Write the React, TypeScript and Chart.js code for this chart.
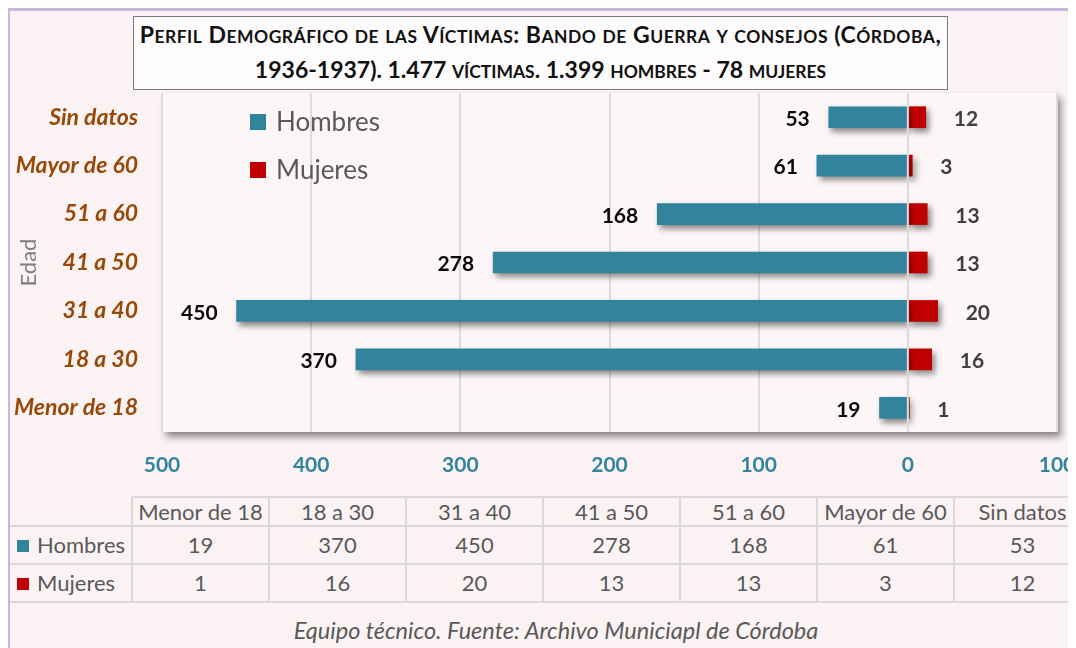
import React, { useEffect, useRef } from 'react';
import { Chart, registerables } from 'chart.js';

Chart.register(...registerables);

// ---------- data ----------
const categories = ['Menor de 18', '18 a 30', '31 a 40', '41 a 50', '51 a 60', 'Mayor de 60', 'Sin datos'];
const hombres = [19, 370, 450, 278, 168, 61, 53];
const mujeres = [1, 16, 20, 13, 13, 3, 12];
const seriesNames = ['Hombres', 'Mujeres'];
const seriesColors = ['#31849b', '#c00000'];
const xMin = -500;
const xMax = 100;
const xStep = 100;
const titleLines = [
  'Perfil Demográfico de las Víctimas: Bando de Guerra y consejos (Córdoba,',
  '1936-1937). 1.477 víctimas. 1.399 hombres - 78 mujeres',
];
const axisTitle = 'Edad';
const sourceNote = 'Equipo técnico. Fuente: Archivo Municiapl de Córdoba';

const FONT = 'Lato, "Open Sans", "DejaVu Sans", sans-serif';
const BG = '#fbf3f3';

const plotBg = {
  id: 'plotBg',
  beforeDraw(chart: any) {
    const { ctx, chartArea: a } = chart;
    ctx.save();
    ctx.shadowColor = 'rgba(0,0,0,0.45)';
    ctx.shadowBlur = 7;
    ctx.shadowOffsetX = 4;
    ctx.shadowOffsetY = 5;
    ctx.fillStyle = '#fcf6f6';
    ctx.fillRect(a.left, a.top, a.right - a.left, a.bottom - a.top);
    ctx.restore();
  },
};

const barShadow = {
  id: 'barShadow',
  beforeDatasetsDraw(chart: any) {
    const c = chart.ctx;
    c.save();
    c.shadowColor = 'rgba(0,0,0,0.45)';
    c.shadowBlur = 6;
    c.shadowOffsetX = 3;
    c.shadowOffsetY = 4;
  },
  afterDatasetsDraw(chart: any) {
    chart.ctx.restore();
  },
};

const zeroLine = {
  id: 'zeroLine',
  afterDatasetsDraw(chart: any) {
    const { ctx, chartArea: a, scales } = chart;
    const px = scales.x.getPixelForValue(0);
    ctx.save();
    ctx.strokeStyle = '#dcdcdc';
    ctx.lineWidth = 2;
    ctx.beginPath();
    ctx.moveTo(px, a.top);
    ctx.lineTo(px, a.bottom);
    ctx.stroke();
    ctx.restore();
  },
};

const valueLabels = {
  id: 'valueLabels',
  afterDatasetsDraw(chart: any) {
    const ctx = chart.ctx;
    ctx.save();
    ctx.font = `bold 21px ${FONT}`;
    ctx.textBaseline = 'middle';
    chart.getDatasetMeta(0).data.forEach((bar: any, i: number) => {
      ctx.fillStyle = '#0a0a0a';
      ctx.textAlign = 'right';
      ctx.fillText(String(hombres[i]), bar.x - 19, bar.y + 2);
    });
    chart.getDatasetMeta(1).data.forEach((bar: any, i: number) => {
      ctx.fillStyle = '#404040';
      ctx.textAlign = 'left';
      ctx.fillText(String(mujeres[i]), bar.x + 28, bar.y + 2);
    });
    ctx.restore();
  },
};

const inlineLegend = {
  id: 'inlineLegend',
  afterDraw(chart: any) {
    const { ctx, chartArea: a } = chart;
    ctx.save();
    ctx.font = `26px ${FONT}`;
    ctx.textBaseline = 'middle';
    ctx.textAlign = 'left';
    chart.data.datasets.forEach((ds: any, i: number) => {
      const x = a.left + 88;
      const y = a.top + 21 + i * 48;
      ctx.fillStyle = ds.backgroundColor;
      ctx.fillRect(x, y, 16, 16);
      ctx.fillStyle = '#595959';
      ctx.fillText(ds.label, x + 26, y + 9);
    });
    ctx.restore();
  },
};

function BarChart() {
  const ref = useRef<HTMLCanvasElement | null>(null);
  useEffect(() => {
    if (!ref.current) return;
    const chart = new Chart(ref.current, {
      type: 'bar',
      data: {
        labels: categories,
        datasets: [
          {
            label: seriesNames[0],
            data: hombres.map((v) => -v),
            backgroundColor: seriesColors[0],
            barThickness: 21,
          },
          {
            label: seriesNames[1],
            data: mujeres,
            backgroundColor: seriesColors[1],
            barThickness: 21,
          },
        ],
      },
      options: {
        indexAxis: 'y',
        responsive: false,
        animation: false,
        events: [],
        layout: { padding: { top: 85, right: 19, bottom: 0, left: 0 } },
        plugins: {
          legend: { display: false },
          tooltip: { enabled: false },
          title: { display: false },
        },
        scales: {
          x: {
            stacked: true,
            min: xMin,
            max: xMax,
            ticks: {
              stepSize: xStep,
              callback: (v: any) => String(Math.abs(Number(v))),
              color: '#31849b',
              font: { family: FONT, size: 21, weight: 'bold' },
              padding: 0,
              maxRotation: 0,
              autoSkip: false,
            },
            grid: {
              color: '#dcdcdc',
              lineWidth: 2,
              drawTicks: true,
              tickLength: 21,
              tickColor: 'rgba(0,0,0,0)',
            },
            border: { display: false },
            afterFit: (s: any) => {
              s.height = 58;
            },
          },
          y: {
            stacked: true,
            reverse: true,
            ticks: {
              color: '#984807',
              font: { family: FONT, size: 23, weight: 'bold', style: 'italic' },
              padding: 24,
              autoSkip: false,
            },
            grid: { display: false, drawTicks: false },
            border: { display: false },
            title: {
              display: true,
              text: axisTitle,
              color: '#7f7f7f',
              font: { family: FONT, size: 22 },
              padding: { top: 8, bottom: 0 },
            },
            afterFit: (s: any) => {
              s.width = 154;
            },
          },
        },
      } as any,
      plugins: [plotBg, barShadow, zeroLine, valueLabels, inlineLegend],
    });
    return () => chart.destroy();
  }, []);
  return (
    <canvas
      ref={ref}
      width={1068}
      height={482}
      style={{ position: 'absolute', left: 0, top: 0, width: 1068, height: 482 }}
    />
  );
}

function SmallCaps({ text }: { text: string }) {
  const runs: { small: boolean; s: string }[] = [];
  for (const ch of text) {
    const small = ch !== ch.toUpperCase();
    const last = runs[runs.length - 1];
    if (last && last.small === small) last.s += ch;
    else runs.push({ small, s: ch });
  }
  return (
    <>
      {runs.map((r, i) =>
        r.small ? (
          <span key={i} style={{ fontSize: '0.76em' }}>
            {r.s.toUpperCase()}
          </span>
        ) : (
          <span key={i}>{r.s}</span>
        )
      )}
    </>
  );
}

const COL0 = 124;
const COLW = 137;
const ROWS = [489, 518, 556, 594];

function DataTable() {
  const lineColor = '#d9d9d9';
  const textStyle: React.CSSProperties = {
    position: 'absolute',
    fontFamily: FONT,
    fontSize: 22,
    color: '#595959',
    textAlign: 'center',
    lineHeight: '28px',
    whiteSpace: 'nowrap',
  };
  const rowsData = [hombres, mujeres];
  return (
    <div>
      {ROWS.map((y, i) => (
        <div
          key={'h' + i}
          style={{
            position: 'absolute',
            left: i === 0 ? COL0 : 0,
            top: y - 1,
            width: 1200,
            height: 2,
            background: lineColor,
          }}
        />
      ))}
      {categories.map((_, i) => (
        <div
          key={'v' + i}
          style={{
            position: 'absolute',
            left: COL0 + i * COLW - 1,
            top: ROWS[0],
            width: 2,
            height: ROWS[3] - ROWS[0],
            background: lineColor,
          }}
        />
      ))}
      {categories.map((c, i) => (
        <div
          key={'c' + i}
          style={{
            ...textStyle,
            left: COL0 + i * COLW,
            width: COLW,
            top: (ROWS[0] + ROWS[1]) / 2 - 14,
          }}
        >
          {c}
        </div>
      ))}
      {rowsData.map((vals, r) => (
        <React.Fragment key={'r' + r}>
          <div
            style={{
              position: 'absolute',
              left: 9,
              top: (ROWS[r + 1] + ROWS[r + 2]) / 2 - 5,
              width: 12,
              height: 12,
              background: seriesColors[r],
            }}
          />
          <div
            style={{
              ...textStyle,
              textAlign: 'left',
              left: 29,
              top: (ROWS[r + 1] + ROWS[r + 2]) / 2 - 14,
            }}
          >
            {seriesNames[r]}
          </div>
          {vals.map((v, i) => (
            <div
              key={'d' + r + '-' + i}
              style={{
                ...textStyle,
                left: COL0 + i * COLW,
                width: COLW,
                top: (ROWS[r + 1] + ROWS[r + 2]) / 2 - 14,
              }}
            >
              {v}
            </div>
          ))}
        </React.Fragment>
      ))}
    </div>
  );
}

export default function App() {
  useEffect(() => {
    const prevHtml = document.documentElement.style.overflow;
    const prevBody = document.body.style.overflow;
    document.documentElement.style.overflow = 'hidden';
    document.body.style.overflow = 'hidden';
    return () => {
      document.documentElement.style.overflow = prevHtml;
      document.body.style.overflow = prevBody;
    };
  }, []);
  return (
    <div
      style={{
        position: 'relative',
        width: 1068,
        height: 640,
        overflow: 'hidden',
        background: BG,
      }}
    >
      <BarChart />
      <div
        style={{
          position: 'absolute',
          left: 125,
          top: 8,
          width: 815,
          height: 74,
          boxSizing: 'border-box',
          border: '1.5px solid #7a7a7a',
          background: '#fdfbfb',
          display: 'flex',
          flexDirection: 'column',
          justifyContent: 'center',
          alignItems: 'center',
          fontFamily: FONT,
          fontWeight: 'bold',
          fontSize: 23,
          lineHeight: '32px',
          color: '#111111',
          whiteSpace: 'nowrap',
        }}
      >
        {titleLines.map((t, i) => (
          <div key={i} style={{ letterSpacing: i === 0 ? 0.5 : 0 }}>
            <SmallCaps text={t} />
          </div>
        ))}
      </div>
      <DataTable />
      <div
        style={{
          position: 'absolute',
          left: 0,
          width: 1096,
          top: 608,
          textAlign: 'center',
          fontFamily: FONT,
          fontStyle: 'italic',
          fontSize: 23.5,
          color: '#595959',
          lineHeight: '28px',
        }}
      >
        {sourceNote}
      </div>
      <div style={{ position: 'absolute', left: 0, top: 0, width: '100%', height: 3, background: '#c8b7db' }} />
      <div style={{ position: 'absolute', left: 0, top: 0, width: 2, height: '100%', background: '#c8b7db' }} />
    </div>
  );
}
